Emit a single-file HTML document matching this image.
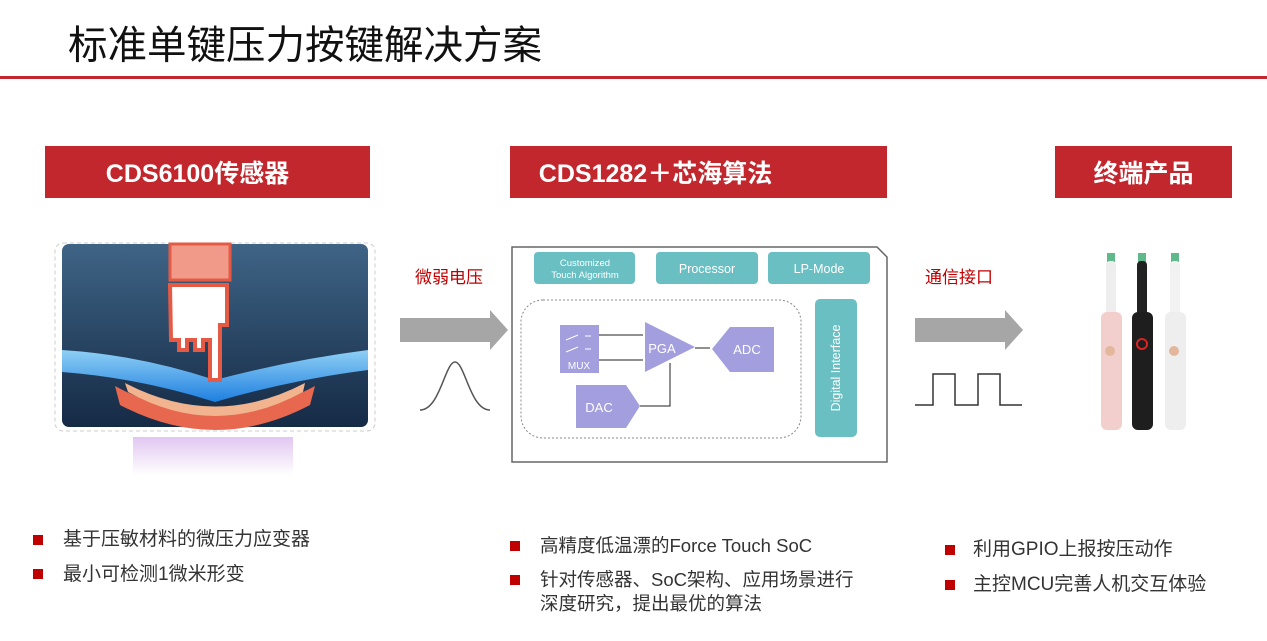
<!DOCTYPE html>
<html><head><meta charset="utf-8"><style>
body{margin:0;width:1267px;height:641px;background:#fff;position:relative;overflow:hidden;font-family:"Liberation Sans","Noto Sans CJK SC",sans-serif;}
.a{position:absolute;white-space:nowrap}
.hd{position:absolute;background:#c1272d;color:#fff;font-weight:bold;font-size:25px;display:flex;align-items:center;justify-content:center;height:52px;top:146px;box-sizing:border-box}
.b{position:absolute;font-size:19px;color:#333;line-height:24px;white-space:nowrap}
.sq{position:absolute;width:10px;height:10px;background:#c00000}
</style></head><body>
<div class="a" style="left:68px;top:14px;font-size:39.5px;color:#111">标准单键压力按键解决方案</div>
<div class="a" style="left:0;top:76px;width:1267px;height:3px;background:#c1272d"></div>
<div class="hd" style="left:45px;width:325px;padding-right:20px">CDS6100传感器</div>
<div class="hd" style="left:510px;width:377px;padding-right:86px">CDS1282＋芯海算法</div>
<div class="hd" style="left:1055px;width:177px">终端产品</div>

<svg class="a" style="left:0;top:0" width="1267" height="641">
<defs>
<linearGradient id="bg" x1="0" y1="0" x2="0" y2="1"><stop offset="0" stop-color="#3f6486"/><stop offset="1" stop-color="#152a45"/></linearGradient>
<linearGradient id="bl" x1="0" y1="0" x2="0" y2="1"><stop offset="0" stop-color="#8fd0f5"/><stop offset="1" stop-color="#1f7fe0"/></linearGradient>
<linearGradient id="rf" x1="0" y1="0" x2="0" y2="1"><stop offset="0" stop-color="#d9b8ee"/><stop offset="1" stop-color="#fff"/></linearGradient>
</defs>
<rect x="55" y="243" width="320" height="188" rx="8" fill="none" stroke="#ccc" stroke-dasharray="4 3"/>
<rect x="62" y="244" width="306" height="183" rx="7" fill="url(#bg)"/>
<path d="M115 386 Q215 440 315 386 L310 405 Q215 455 120 405Z" fill="#e8674f"/>
<path d="M125 383 Q215 430 305 383 L303 392 Q215 440 128 392Z" fill="#f2b48f"/>
<path d="M62 350 Q140 355 215 380 Q290 360 368 350 L368 370 Q290 380 215 402 Q140 378 62 372Z" fill="url(#bl)"/>
<rect x="170" y="244" width="60" height="36" fill="#f19a8a" stroke="#e55a44" stroke-width="3"/>
<path d="M170 285 h57 v40 h-7 v55 h-10 v-40 h-7 v10 h-8 v-10 h-8 v10 h-8 v-10 h-8 Z" fill="#fff" stroke="#e55a44" stroke-width="4"/>
<rect x="133" y="437" width="160" height="38" fill="url(#rf)" opacity="0.8"/>
<polygon points="400,318 490,318 490,310 508,330 490,350 490,342 400,342" fill="#a6a6a6"/>
<path d="M420 410 C440 410 445 362 455 362 C465 362 470 410 490 410" fill="none" stroke="#555" stroke-width="1.5"/>
<polygon points="915,318 1005,318 1005,310 1023,330 1005,350 1005,342 915,342" fill="#a6a6a6"/>
<path d="M915 405 H933 V374 H955 V405 H978 V374 H1000 V405 H1022" fill="none" stroke="#333" stroke-width="1.5"/>
<path d="M512 247 H877 L887 257 V462 H512 Z" fill="#fff" stroke="#666" stroke-width="1.5"/>
<rect x="534" y="252" width="101" height="32" rx="4" fill="#6abfc3"/>
<rect x="656" y="252" width="102" height="32" rx="4" fill="#6abfc3"/>
<rect x="768" y="252" width="102" height="32" rx="4" fill="#6abfc3"/>
<rect x="815" y="299" width="42" height="138" rx="5" fill="#6abfc3"/>
<rect x="521" y="300" width="280" height="138" rx="22" fill="none" stroke="#888" stroke-dasharray="2 2"/>
<rect x="560" y="325" width="39" height="48" fill="#a39fde"/>
<path d="M566 340 l12 -5 M585 336 h6 M566 352 l12 -5 M585 349 h6" stroke="#fff" stroke-width="1"/>
<polygon points="645,322 695,347 645,372" fill="#a39fde"/>
<polygon points="712,349 730,327 774,327 774,372 730,372" fill="#a39fde"/>
<polygon points="576,385 626,385 640,406 626,428 576,428" fill="#a39fde"/>
<path d="M599 335 H643 M599 360 H643 M695 348 H710 M640 406 H670 V363" stroke="#222" stroke-width="1" fill="none"/>
<text x="579" y="369" font-size="10" fill="#fff" text-anchor="middle" font-family="Liberation Sans">MUX</text>
<text x="662" y="353" font-size="13" fill="#fff" text-anchor="middle" font-family="Liberation Sans">PGA</text>
<text x="747" y="354" font-size="13" fill="#fff" text-anchor="middle" font-family="Liberation Sans">ADC</text>
<text x="599" y="412" font-size="13" fill="#fff" text-anchor="middle" font-family="Liberation Sans">DAC</text>
<text x="585" y="266" font-size="9.5" fill="#fff" text-anchor="middle" font-family="Liberation Sans">Customized</text>
<text x="585" y="278" font-size="9.5" fill="#fff" text-anchor="middle" font-family="Liberation Sans">Touch Algorithm</text>
<text x="707" y="273" font-size="12.5" fill="#fff" text-anchor="middle" font-family="Liberation Sans">Processor</text>
<text x="819" y="273" font-size="12.5" fill="#fff" text-anchor="middle" font-family="Liberation Sans">LP-Mode</text>
<text transform="translate(840,368) rotate(-90)" font-size="12.5" fill="#fff" text-anchor="middle" font-family="Liberation Sans">Digital Interface</text>
<g>
<rect x="1107" y="253" width="8" height="9" fill="#5fb98a"/><rect x="1106" y="261" width="10" height="55" rx="4" fill="#eee"/>
<rect x="1101" y="312" width="21" height="118" rx="6" fill="#f2cfcc"/><circle cx="1110" cy="351" r="5" fill="#e3b79c"/>
<rect x="1138" y="253" width="8" height="9" fill="#5fb98a"/><rect x="1137" y="261" width="10" height="55" rx="4" fill="#222"/>
<rect x="1132" y="312" width="21" height="118" rx="6" fill="#1e1e1e"/><circle cx="1142" cy="344" r="5" fill="none" stroke="#d22" stroke-width="2"/>
<rect x="1171" y="253" width="8" height="9" fill="#5fb98a"/><rect x="1170" y="261" width="10" height="55" rx="4" fill="#f2f2f2"/>
<rect x="1165" y="312" width="21" height="118" rx="6" fill="#eeeeee"/><circle cx="1174" cy="351" r="5" fill="#e3b79c"/>
</g>
</svg>
<div class="a" style="left:415px;top:263px;font-size:17px;color:#c00000">微弱电压</div>
<div class="a" style="left:925px;top:263px;font-size:17px;color:#c00000">通信接口</div>

<div class="sq" style="left:33px;top:535px"></div><div class="b" style="left:63px;top:528px">基于压敏材料的微压力应变器</div>
<div class="sq" style="left:33px;top:569px"></div><div class="b" style="left:63px;top:563px">最小可检测1微米形变</div>
<div class="sq" style="left:510px;top:541px"></div><div class="b" style="left:540px;top:534px;font-size:18.5px">高精度低温漂的Force Touch SoC</div>
<div class="sq" style="left:510px;top:575px"></div><div class="b" style="left:540px;top:568px;font-size:18.5px">针对传感器、SoC架构、应用场景进行<br>深度研究，提出最优的算法</div>
<div class="sq" style="left:945px;top:545px"></div><div class="b" style="left:973px;top:538px">利用GPIO上报按压动作</div>
<div class="sq" style="left:945px;top:580px"></div><div class="b" style="left:973px;top:573px">主控MCU完善人机交互体验</div>
</body></html>
